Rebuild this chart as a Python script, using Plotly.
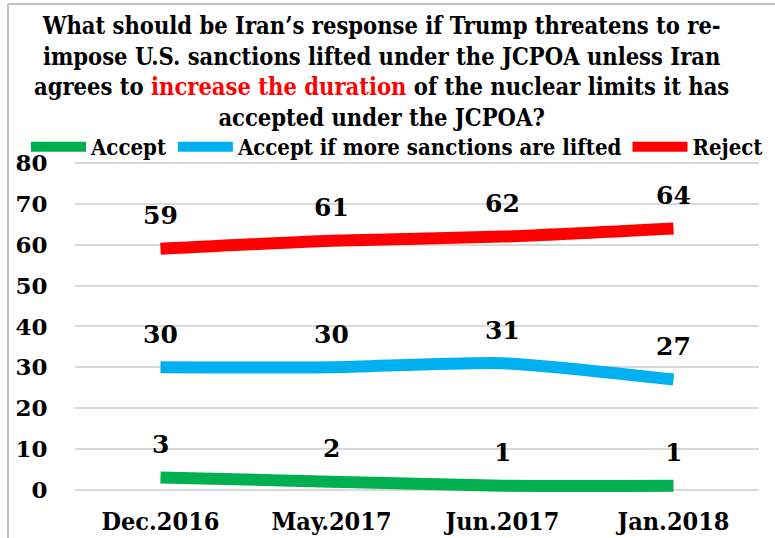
import plotly.graph_objects as go

# Survey waves and response shares (%)
waves = ["Dec.2016", "May.2017", "Jun.2017", "Jan.2018"]
accept = [3, 2, 1, 1]
accept_more_lifted = [30, 30, 31, 27]
reject = [59, 61, 62, 64]

series_names = ["Accept", "Accept if more sanctions are lifted", "Reject"]
series_colors = ["#00B050", "#00B0F0", "#FF0000"]
series_values = [accept, accept_more_lifted, reject]

title_lines = [
    "What should be Iran\u2019s response if Trump threatens to re-",
    "impose U.S. sanctions lifted under the JCPOA unless Iran",
    "agrees to <span style='color:#FF0000'>increase the duration</span> of the nuclear limits it has",
    "accepted under the JCPOA?",
]

y_ticks = list(range(0, 81, 10))

W, H = 775, 538
L, R, T, B = 75, 16, 159, 40
PW, PH = W - L - R, H - T - B

TITLE_FONT = "DejaVu Serif Condensed, DejaVu Serif, serif"
NUM_FONT = "DejaVu Serif, serif"


def px_x(px):
    return (px - L) / PW


def px_y(py):
    return (H - B - py) / PH


fig = go.Figure()
for name, color, vals in zip(series_names, series_colors, series_values):
    fig.add_trace(go.Scatter(
        x=waves, y=vals, name=name, mode="lines",
        line=dict(color=color, width=12, shape="spline", smoothing=0.6),
        hoverinfo="x+y+name",
    ))
    for w, v in zip(waves, vals):
        fig.add_annotation(
            x=w, y=v, xref="x", yref="y", text=str(v), showarrow=False,
            yanchor="middle", yshift=33,
            font=dict(family=NUM_FONT, size=25, color="#000000", weight="bold"),
        )

# Four-line title
fig.add_annotation(
    x=px_x(381), y=px_y(10), xref="paper", yref="paper",
    text="<b>" + "<br>".join(title_lines) + "</b>", showarrow=False,
    xanchor="center", yanchor="top", align="center",
    font=dict(family=TITLE_FONT, size=23.5, color="#000000"),
)

# Chart frame (top and left edges)
fig.add_shape(type="line", xref="paper", yref="paper",
              x0=px_x(8), x1=px_x(W + 5), y0=px_y(4), y1=px_y(4),
              line=dict(color="#BFBFBF", width=2))
fig.add_shape(type="line", xref="paper", yref="paper",
              x0=px_x(8), x1=px_x(8), y0=px_y(4), y1=px_y(H + 5),
              line=dict(color="#BFBFBF", width=2))

fig.update_layout(
    width=W, height=H,
    margin=dict(l=L, r=R, t=T, b=B, autoexpand=False),
    paper_bgcolor="#FFFFFF", plot_bgcolor="#FFFFFF",
    showlegend=True,
    legend=dict(
        orientation="h", x=px_x(26), y=px_y(126), xanchor="left", yanchor="top",
        font=dict(family=TITLE_FONT, size=22, color="#000000", weight="bold"),
        itemwidth=55, bgcolor="rgba(0,0,0,0)", tracegroupgap=0,
    ),
    xaxis=dict(
        type="category", range=[-0.5, 3.5], showgrid=False, zeroline=False,
        showline=False, ticks="", automargin=False,
        tickfont=dict(family=TITLE_FONT, size=25, color="#000000", weight="bold"),
        ticklabelstandoff=6,
    ),
    yaxis=dict(
        range=[-2, 81], tickmode="array", tickvals=y_ticks,
        ticktext=[str(v) for v in y_ticks],
        showgrid=True, gridcolor="#D9D9D9", gridwidth=2,
        zeroline=False, showline=False,
        ticks="outside", ticklen=22, tickcolor="rgba(0,0,0,0)",
        automargin=False,
        tickfont=dict(family=NUM_FONT, size=23, color="#000000", weight="bold"),
    ),
)

fig.write_html("out.html")
